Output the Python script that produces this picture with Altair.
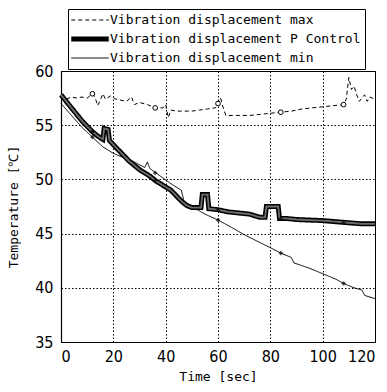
import altair as alt
import pandas as pd

S_MAX = "Vibration displacement max"
S_P = "Vibration displacement P Control"
S_MIN = "Vibration displacement min"
SERIES = [S_MAX, S_P, S_MIN]

# Vibration displacement max (dashed, open circles)
max_t = [0, 2, 4, 6, 8, 10, 12, 13, 14, 15, 16, 17, 19, 21, 23, 25, 27, 28, 30, 33,
         36, 39, 40, 41, 42, 44, 47, 50, 53, 56, 59, 60, 61, 62, 63, 67, 72, 76, 80, 84,
         88, 92, 96, 100, 104, 108, 109, 110, 111, 112, 113, 114, 115, 116, 117, 118, 120]
max_v = [57.8, 57.4, 57.6, 57.5, 57.6, 57.5, 57.9, 57.6, 56.8, 57.3, 57.9, 57.4, 57.7, 57.4,
         57.3, 57.2, 57.6, 56.9, 57.1, 56.9, 56.6, 56.6, 56.9, 55.7, 56.4, 56.3, 56.3, 56.3,
         56.4, 56.5, 56.6, 57.0, 57.5, 56.6, 55.9, 55.9, 55.9, 56.0, 56.1, 56.2, 56.3, 56.5,
         56.6, 56.7, 56.8, 56.9, 57.4, 59.4, 58.3, 58.6, 57.8, 57.2, 57.5, 57.8, 57.2, 57.6, 57.4]

# Vibration displacement P Control (thick band)
p_t = [0, 2, 4, 6, 8, 10, 12, 14, 16, 16.5, 18, 18.5, 20, 22, 24, 26, 28, 30, 32, 34, 36,
       38, 40, 42, 44, 46, 48, 50, 52, 53.5, 54, 56, 56.5, 60, 64, 68, 72, 76, 78, 78.5, 83,
       83.5, 86, 90, 95, 100, 105, 110, 115, 120]
p_v = [57.8, 57.2, 56.6, 56.0, 55.4, 54.9, 54.4, 54.0, 53.7, 54.7, 54.6, 53.6, 53.2, 52.7,
       52.2, 51.7, 51.3, 50.9, 50.6, 50.3, 49.9, 49.6, 49.3, 49.0, 48.5, 48.0, 47.6, 47.4,
       47.4, 47.4, 48.6, 48.6, 47.3, 47.2, 47.0, 46.9, 46.8, 46.5, 46.5, 47.5, 47.5, 46.4,
       46.4, 46.3, 46.25, 46.2, 46.1, 46.0, 45.9, 45.9]

# Vibration displacement min (thin, diamonds)
min_t = [0, 4, 8, 12, 16, 20, 24, 28, 32, 33, 34, 38, 42, 46, 47, 50, 55, 60, 65, 70, 75,
         80, 84, 88, 89, 95, 100, 105, 108, 112, 115, 116, 120]
min_v = [57.0, 55.9, 54.8, 53.9, 53.0, 52.4, 52.0, 51.6, 51.1, 51.6, 51.0, 50.3, 49.6, 49.0,
         48.0, 47.5, 46.8, 46.25, 45.6, 44.9, 44.3, 43.7, 43.2, 42.8, 42.3, 41.8, 41.3, 40.8,
         40.4, 40.0, 39.8, 39.3, 39.0]

# Marker positions (every 24 s)
mark_t = [12, 36, 60, 84, 108]
max_mark_v = [57.9, 56.6, 57.0, 56.2, 56.9]
p_mark_v = [54.4, 49.9, 47.2, 46.4, 46.0]
min_mark_v = [53.9, 50.6, 46.25, 43.2, 40.4]

lines = pd.concat([
    pd.DataFrame({"t": max_t, "v": max_v, "series": S_MAX}),
    pd.DataFrame({"t": p_t, "v": p_v, "series": S_P}),
    pd.DataFrame({"t": min_t, "v": min_v, "series": S_MIN}),
], ignore_index=True)
p_only = pd.DataFrame({"t": p_t, "v": p_v})
circles = pd.DataFrame({"t": mark_t, "v": max_mark_v})
diamonds = pd.DataFrame({"t": mark_t + mark_t, "v": p_mark_v + min_mark_v})

MONO = "DejaVu Sans Mono"
NUM = "Liberation Sans Narrow, DejaVu Sans Condensed, sans-serif"

x = alt.X("t:Q", scale=alt.Scale(domain=[0, 120], nice=False),
          axis=alt.Axis(values=[0, 20, 40, 60, 80, 100, 120], title="Time [sec]"))
y = alt.Y("v:Q", scale=alt.Scale(domain=[35, 60], nice=False, zero=False),
          axis=alt.Axis(values=[35, 40, 45, 50, 55, 60], title="Temperature [℃]"))

legend = alt.Legend(
    title=None, orient="none", legendX=7, legendY=-62,
    symbolType="M-3,0H3", symbolSize=156, symbolOffset=9, labelOffset=11,
    symbolStrokeColor="black", fillColor="white", strokeColor="black",
    padding=4, rowPadding=2, labelFont=MONO, labelFontSize=13, labelColor="black",
    labelLimit=400,
)

base_lines = alt.Chart(lines).mark_line(color="black", interpolate="linear").encode(
    x=x, y=y,
    strokeDash=alt.StrokeDash("series:N", scale=alt.Scale(domain=SERIES, range=[[4, 3], [1, 0], [1, 0]]),
                              legend=legend),
    strokeWidth=alt.StrokeWidth("series:N",
                                scale=alt.Scale(type="ordinal", domain=SERIES, range=[1, 5, 1]),
                                legend=legend),
    detail="series:N",
)

# grey core inside the thick P Control line
band_core = alt.Chart(p_only).mark_line(color="#6e6e6e", strokeWidth=1.8).encode(x=x, y=y)

circle_pts = alt.Chart(circles).mark_point(shape="circle", filled=False, color="black",
                                           fill="white", fillOpacity=1, size=22, strokeWidth=1).encode(x=x, y=y)
diamond_pts = alt.Chart(diamonds).mark_point(shape="diamond", filled=True, color="black",
                                             size=22).encode(x=x, y=y)

chart = alt.layer(base_lines, band_core, circle_pts, diamond_pts).properties(
    width=314, height=271,
    autosize=alt.AutoSizeParams(type="none"),
    padding={"left": 61, "top": 71, "right": 12, "bottom": 50},
    background="white",
).configure_view(
    stroke="black", strokeWidth=1,
).configure_axis(
    grid=True, gridColor="black", gridDash=[1.5, 2], gridWidth=1, gridOpacity=1,
    domain=True, domainColor="black", domainWidth=1.2,
    ticks=False, labelFont=NUM, labelFontSize=16, labelColor="black",
    titleFont=MONO, titleFontSize=13, titleFontWeight="normal", titleColor="black",
).configure_axisX(
    labelPadding=6, titlePadding=6,
).configure_axisY(
    labelPadding=8, titlePadding=14,
)

chart.save("out.html", embed_options={"renderer": "svg", "actions": False})
